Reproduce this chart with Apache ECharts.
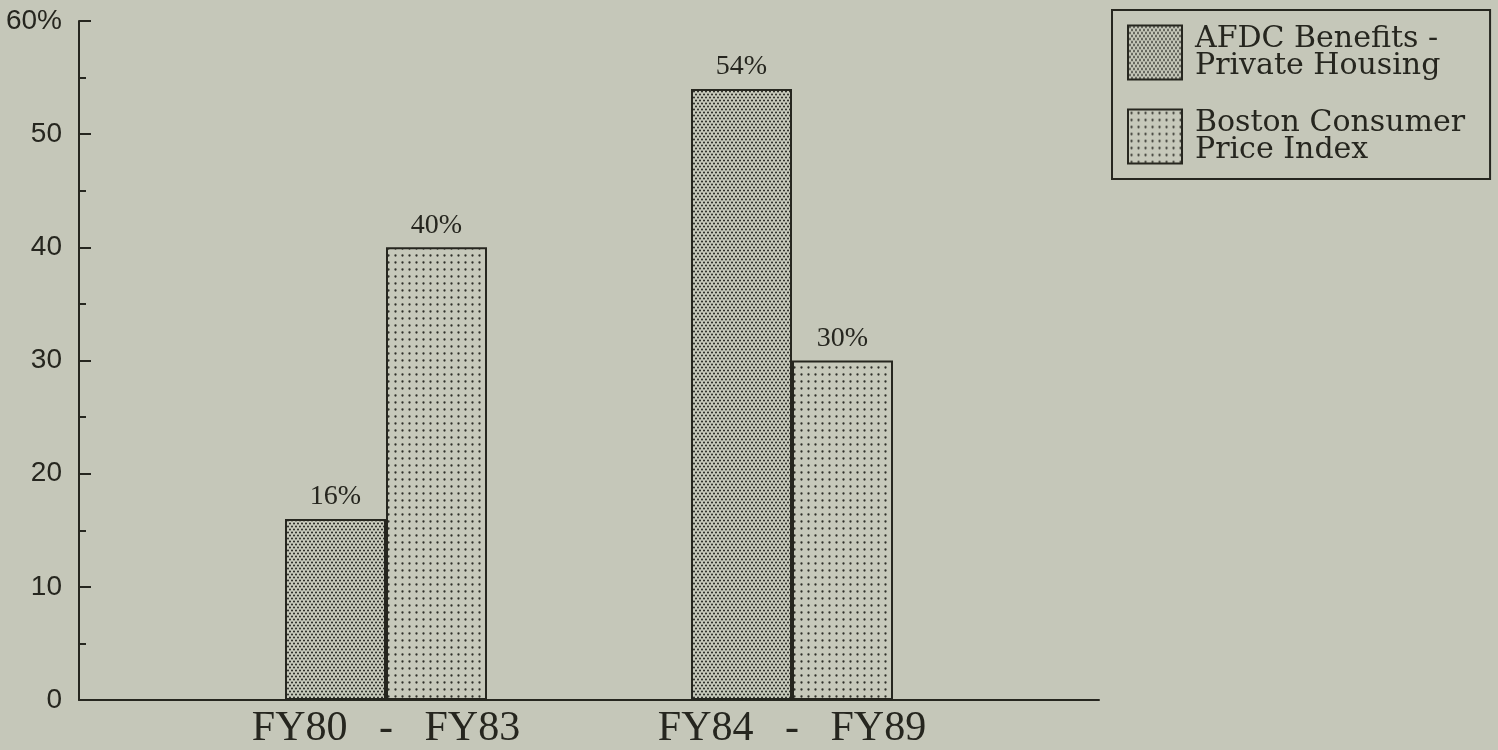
<!DOCTYPE html>
<html>
<head>
<meta charset="utf-8">
<script src="https://cdn.jsdelivr.net/npm/echarts@6/dist/echarts.min.js"></script>
<style>
  html, body { margin: 0; padding: 0; background: #c5c7b9; }
  #chart { width: 1498px; height: 750px; }
</style>
</head>
<body>
<div id="chart"></div>
<script>
// Growth in percent, by period
const categories = ['FY80 - FY83', 'FY84 - FY89'];
const afdcValues = [16, 54];
const cpiValues = [40, 30];
const seriesNames = ['AFDC Benefits -\nPrivate Housing', 'Boston Consumer\nPrice Index'];
const yMin = 0;
const yMax = 60;
const yInterval = 10;

const BG = '#c5c7b9';
const INK = '#26261f';

// Small tiled canvases used as dotted bar fills
function dotPattern(w, h, dots, radius, bg, fg) {
  const c = document.createElement('canvas');
  c.width = w;
  c.height = h;
  const ctx = c.getContext('2d');
  ctx.fillStyle = bg;
  ctx.fillRect(0, 0, w, h);
  ctx.fillStyle = fg;
  dots.forEach(([x, y]) => {
    ctx.beginPath();
    ctx.arc(x, y, radius, 0, Math.PI * 2);
    ctx.fill();
  });
  return { image: c, repeat: 'repeat' };
}
// dense staggered screen (dots straddling the tile edge are repeated so they tile cleanly)
const denseDots = dotPattern(8, 6,
  [[2, 1.5], [6, 1.5], [0, 4.5], [4, 4.5], [8, 4.5]], 1.05, '#c8cabc', '#2c2d28');
const sparseDots = dotPattern(7, 7, [[3.5, 3.5]], 1.15, '#c7c9bb', '#2e2f29');

const chart = echarts.init(document.getElementById('chart'), null, { renderer: 'canvas' });

const labelStyle = {
  show: true,
  position: 'top',
  distance: 8,
  formatter: '{c}%',
  color: INK,
  fontFamily: 'Liberation Serif',
  fontSize: 28
};

chart.setOption({
  backgroundColor: BG,
  animation: false,
  grid: [
    { left: 79, right: 399, top: 21, bottom: 50 },
    { left: 183, right: 503, top: 21, bottom: 50 }
  ],
  xAxis: [
    {
      gridIndex: 0, type: 'value', min: 0, max: 1,
      axisLine: { show: true, lineStyle: { color: INK, width: 2 } },
      axisTick: { show: false }, axisLabel: { show: false }, splitLine: { show: false }
    },
    {
      gridIndex: 1, type: 'category', data: categories,
      axisLine: { show: false }, axisTick: { show: false },
      axisLabel: {
        margin: 8,
        color: INK,
        fontFamily: 'Liberation Serif',
        fontSize: 42,
        formatter: (v) => v.replace(' - ', '   -   ')
      }
    }
  ],
  yAxis: [
    {
      gridIndex: 0, type: 'value', min: yMin, max: yMax, interval: yInterval,
      axisLine: { show: true, lineStyle: { color: INK, width: 2 } },
      axisTick: { show: true, inside: true, length: 12, lineStyle: { color: INK, width: 2 } },
      minorTick: { show: true, splitNumber: 2, length: 7, lineStyle: { color: INK, width: 2 } },
      splitLine: { show: false },
      axisLabel: {
        margin: 17,
        color: INK,
        fontFamily: 'Liberation Sans',
        fontSize: 28,
        formatter: (v) => (v === yMax ? v + '%' : String(v))
      }
    },
    {
      gridIndex: 1, type: 'value', min: yMin, max: yMax, interval: yInterval, show: false
    }
  ],
  legend: {
    orient: 'vertical',
    left: 1112,
    top: 10,
    padding: [14, 25, 14, 15],
    icon: 'rect',
    itemWidth: 54,
    itemHeight: 54,
    itemGap: 27,
    borderColor: INK,
    borderWidth: 2,
    borderRadius: 0,
    textStyle: {
      color: INK,
      fontFamily: 'DejaVu Serif',
      fontSize: 30,
      lineHeight: 27,
      padding: [0, 0, 0, 8]
    },
    data: seriesNames
  },
  series: [
    {
      name: seriesNames[0], type: 'bar', xAxisIndex: 1, yAxisIndex: 1,
      data: afdcValues, barWidth: 101, barGap: '0%',
      itemStyle: { color: denseDots, borderColor: INK, borderWidth: 2 },
      label: labelStyle
    },
    {
      name: seriesNames[1], type: 'bar', xAxisIndex: 1, yAxisIndex: 1,
      data: cpiValues, barWidth: 101, barGap: '0%',
      itemStyle: { color: sparseDots, borderColor: INK, borderWidth: 2 },
      label: labelStyle
    }
  ]
});
</script>
</body>
</html>
